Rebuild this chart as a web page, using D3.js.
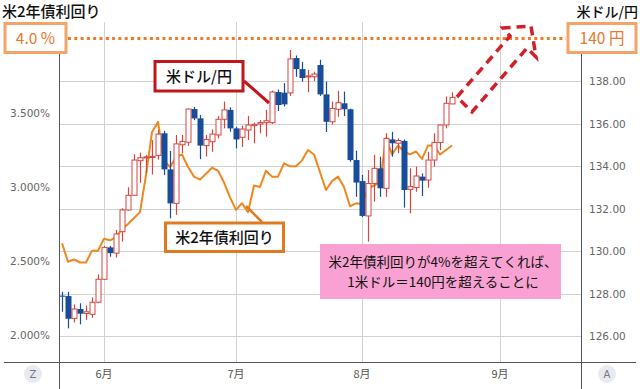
<!DOCTYPE html>
<html><head><meta charset="utf-8">
<script src="https://cdn.jsdelivr.net/npm/d3@7"></script>
<style>
html,body{margin:0;padding:0;background:#fff;}
svg{display:block;}
</style></head>
<body>
<svg id="c" width="640" height="389"></svg>
<script>
// ---- data ----
const dates = ["2022-05-23","2022-05-24","2022-05-25","2022-05-26","2022-05-27","2022-05-30","2022-05-31",
"2022-06-01","2022-06-02","2022-06-03","2022-06-06","2022-06-07","2022-06-08","2022-06-09","2022-06-10",
"2022-06-13","2022-06-14","2022-06-15","2022-06-16","2022-06-17","2022-06-20","2022-06-21","2022-06-22",
"2022-06-23","2022-06-24","2022-06-27","2022-06-28","2022-06-29","2022-06-30",
"2022-07-01","2022-07-04","2022-07-05","2022-07-06","2022-07-07","2022-07-08","2022-07-11","2022-07-12",
"2022-07-13","2022-07-14","2022-07-15","2022-07-18","2022-07-19","2022-07-20","2022-07-21","2022-07-22",
"2022-07-25","2022-07-26","2022-07-27","2022-07-28","2022-07-29",
"2022-08-01","2022-08-02","2022-08-03","2022-08-04","2022-08-05","2022-08-08","2022-08-09","2022-08-10",
"2022-08-11","2022-08-12","2022-08-15","2022-08-16","2022-08-17","2022-08-18","2022-08-19","2022-08-22"];
const open = [127.90,127.88,126.83,127.27,127.06,127.02,127.59,
128.67,130.17,129.90,130.91,131.93,132.62,134.25,134.39,
134.40,134.50,135.54,133.84,132.24,135.00,135.12,136.68,
136.24,134.96,135.14,135.46,136.20,136.64,
135.77,135.35,135.69,135.90,135.98,136.04,136.04,137.48,
137.45,137.44,139.08,138.56,138.20,138.20,138.75,137.37,
136.08,136.67,136.95,136.67,134.28,
133.29,131.65,133.18,133.89,132.95,135.25,135.07,135.18,
132.90,132.99,133.50,133.34,134.28,135.11,135.93,136.92];
const high = [128.08,128.08,127.49,127.54,127.43,127.82,128.90,
130.24,130.24,130.99,132.01,133.00,134.55,134.63,134.52,
135.22,135.69,135.66,134.71,135.46,135.46,136.71,136.78,
136.40,135.46,135.72,136.35,137.03,136.76,
135.85,135.90,136.35,136.04,136.16,136.64,137.55,137.60,
137.90,139.46,139.20,138.90,138.52,138.44,139.00,137.97,
137.03,137.54,137.50,136.70,134.72,
133.58,133.81,134.52,134.44,135.54,135.61,135.30,135.25,
133.89,133.97,133.65,134.67,135.54,135.95,137.27,137.47];
const low = [127.14,126.36,126.64,126.55,126.76,126.86,127.54,
128.64,129.73,129.69,130.44,131.90,132.59,133.21,133.66,
133.60,134.30,133.58,131.54,131.70,134.60,134.95,136.16,
134.32,134.45,134.67,135.30,135.77,135.61,
134.83,134.90,135.22,135.07,135.54,135.38,135.98,136.59,
136.80,137.30,138.20,137.97,137.47,138.00,137.30,135.60,
135.95,136.32,136.35,134.20,132.55,
131.60,130.44,132.32,132.55,132.55,134.44,134.60,132.04,
131.77,132.79,132.59,132.98,133.97,134.75,135.77,136.92];
const close = [127.85,126.81,127.27,127.05,127.14,127.59,128.67,
130.17,129.90,130.80,131.93,132.62,134.28,134.39,134.43,
134.45,135.50,133.84,132.24,135.04,135.16,136.68,136.24,
134.96,135.25,135.50,136.20,136.64,135.77,
135.25,135.74,135.93,135.96,136.05,136.13,137.48,136.87,
136.90,139.04,138.56,138.14,138.24,138.33,137.37,136.08,
136.71,136.98,136.67,134.28,133.22,
131.65,133.18,133.89,132.95,135.30,135.07,135.20,132.87,
133.03,133.53,133.31,134.28,135.11,135.93,136.95,137.23];
const yield2y = [2.62,2.495,2.51,2.49,2.49,2.57,2.57,
2.65,2.64,2.66,2.716,2.75,2.79,2.83,3.08,
3.37,3.44,3.18,3.135,3.20,3.22,3.135,3.07,
3.05,3.09,3.13,3.11,3.03,2.93,
2.845,2.89,2.83,3.01,3.00,3.11,3.07,3.07,
3.16,3.14,3.14,3.18,3.25,3.22,3.10,2.98,
3.04,3.07,3.00,2.87,2.89,
2.885,2.99,3.01,3.03,3.33,3.22,3.28,3.24,
3.22,3.24,3.19,3.28,3.28,3.22,3.25,3.28];
const leftTicks = [2.0, 2.5, 3.0, 3.5];
const rightTicks = [126,128,130,132,134,136,138];
const monthTicks = ["2022-06-01","2022-07-01","2022-08-01","2022-09-01"];
const monthLabels = ["6月","7月","8月","9月"];

// ---- helpers ----
const base = new Date(Date.UTC(2022,5,1));
function wdIndex(s){
  const d = new Date(s+"T00:00:00Z");
  if (d >= base) return d3.utcDays(base, d).filter(x=>x.getUTCDay()%6!==0).length;
  return -d3.utcDays(d, base).filter(x=>x.getUTCDay()%6!==0).length;
}

const svg = d3.select("#c");
const L = 60, R = 582, T = 22, B = 362;
const x = d3.scaleLinear().domain([-44/6, 478/6]).range([L, R]);
const yR = d3.scaleLinear().domain([126,140]).range([336, 38.5]);
const yL = d3.scaleLinear().domain([2.0,4.0]).range([335, 39]);

const data = dates.map((d,i)=>({i:wdIndex(d),o:open[i],h:high[i],l:low[i],c:close[i],y:yield2y[i]}));

// grid
const g = svg.append("g");
g.selectAll("line.h").data(rightTicks).join("line")
  .attr("x1",L).attr("x2",R).attr("y1",d=>Math.round(yR(d))+0.5).attr("y2",d=>Math.round(yR(d))+0.5)
  .attr("stroke","#d2d2d2").attr("stroke-width",1);
g.selectAll("line.v").data(monthTicks).join("line")
  .attr("x1",d=>Math.round(x(wdIndex(d)))+0.5).attr("x2",d=>Math.round(x(wdIndex(d)))+0.5)
  .attr("y1",T).attr("y2",B).attr("stroke","#d2d2d2").attr("stroke-width",1);

// axes frame
svg.append("line").attr("x1",4).attr("x2",636).attr("y1",B+0.5).attr("y2",B+0.5).attr("stroke","#555");
svg.append("line").attr("x1",L-0.5).attr("x2",L-0.5).attr("y1",T).attr("y2",389).attr("stroke","#555");
svg.append("line").attr("x1",R-0.5).attr("x2",R-0.5).attr("y1",T).attr("y2",389).attr("stroke","#555");

// tick labels
const tickFont = "DejaVu Sans, Verdana, sans-serif";
svg.selectAll("text.lt").data(leftTicks).join("text")
  .attr("x",50).attr("y",d=>yL(d)+4).attr("text-anchor","end")
  .attr("font-family",tickFont).attr("font-size",10.5).attr("fill","#666")
  .text(d=>d3.format(".3f")(d)+"%");
svg.selectAll("text.rt").data(rightTicks).join("text")
  .attr("x",589).attr("y",d=>yR(d)+4).attr("text-anchor","start")
  .attr("font-family",tickFont).attr("font-size",10.5).attr("fill","#666")
  .text(d=>d3.format(".2f")(d));
svg.selectAll("text.mt").data(monthTicks).join("text")
  .attr("x",d=>x(wdIndex(d))).attr("y",378).attr("text-anchor","middle")
  .attr("font-family","Noto Sans CJK JP, sans-serif").attr("font-size",11).attr("fill","#555")
  .text((d,i)=>monthLabels[i]);
[["Z",33],["A",607]].forEach(([t,cx])=>{
  svg.append("circle").attr("cx",cx).attr("cy",374).attr("r",9).attr("fill","#e9e9f1");
  svg.append("text").attr("x",cx).attr("y",378).attr("text-anchor","middle")
    .attr("font-family",tickFont).attr("font-size",10).attr("fill","#777").text(t);
});

// yield line
svg.append("path").datum(data)
  .attr("d", d3.line().x(d=>x(d.i)).y(d=>yL(d.y)))
  .attr("fill","none").attr("stroke","#f0871e").attr("stroke-width",2).attr("stroke-linejoin","round");

// candles
const red = "#d8453c", blue = "#184d9c";
const cg = svg.append("g");
data.forEach(d=>{
  const up = d.c >= d.o;
  const col = up ? red : blue;
  const cx = Math.round(x(d.i)) + 0.5;
  const top = yR(Math.max(d.o,d.c)), bot = yR(Math.min(d.o,d.c));
  cg.append("line").attr("x1",cx).attr("x2",cx).attr("y1",yR(d.h)).attr("y2",yR(d.l))
    .attr("stroke",col).attr("stroke-width",1.2);
  const h = Math.max(bot-top, 1);
  if (up) {
    cg.append("rect").attr("x",cx-2.5).attr("y",top).attr("width",5).attr("height",h)
      .attr("fill","#fff").attr("stroke",col).attr("stroke-width",1);
  } else {
    cg.append("rect").attr("x",cx-3).attr("y",top).attr("width",6).attr("height",h)
      .attr("fill",col);
  }
});

// dotted target line
const target = 140;
svg.append("line").attr("x1",68).attr("x2",566).attr("y1",yR(target)).attr("y2",yR(target))
  .attr("stroke","#ee7b28").attr("stroke-width",3).attr("stroke-dasharray","3,3.3");

// target boxes
function box(x0,y0,w,h,stroke,sw){
  svg.append("rect").attr("x",x0).attr("y",y0).attr("width",w).attr("height",h)
    .attr("fill","#fff").attr("stroke",stroke).attr("stroke-width",sw);
}
box(5,23.5,61,29,"#f5a366",3);
svg.append("text").attr("x",35.5).attr("y",44).attr("text-anchor","middle")
  .attr("font-family","Noto Sans CJK JP, sans-serif").attr("font-size",15.5).attr("fill","#e8772c").text("4.0 %");
box(568,23.5,68,29,"#f5a366",3);
svg.append("text").attr("x",602).attr("y",44).attr("text-anchor","middle")
  .attr("font-family","Noto Sans CJK JP, sans-serif").attr("font-size",15.5).attr("fill","#e8772c").text("140 円");

// titles
svg.append("text").attr("x",2).attr("y",17).attr("font-family","Noto Sans CJK JP, sans-serif")
  .attr("font-size",15).attr("font-weight",500).attr("fill","#111").text("米2年債利回り");
svg.append("text").attr("x",638).attr("y",17).attr("text-anchor","end").attr("font-family","Noto Sans CJK JP, sans-serif")
  .attr("font-size",14).attr("font-weight",500).attr("fill","#111").text("米ドル/円");

// callouts
svg.append("line").attr("x1",244).attr("y1",81).attr("x2",269).attr("y2",103)
  .attr("stroke","#c0171f").attr("stroke-width",3);
box(155,61.5,88,29.5,"#c0171f",3);
svg.append("text").attr("x",199).attr("y",82).attr("text-anchor","middle")
  .attr("font-family","Noto Sans CJK JP, sans-serif").attr("font-size",15).attr("font-weight",500).attr("fill","#111").text("米ドル/円");

svg.append("line").attr("x1",246).attr("y1",206).attr("x2",262).attr("y2",222)
  .attr("stroke","#e07a1f").attr("stroke-width",2.5);
box(165.5,223,118,28.5,"#e07a1f",3);
svg.append("text").attr("x",224.5).attr("y",243).attr("text-anchor","middle")
  .attr("font-family","Noto Sans CJK JP, sans-serif").attr("font-size",15).attr("font-weight",500).attr("fill","#111").text("米2年債利回り");

// pink note
svg.append("rect").attr("x",320).attr("y",244).attr("width",241).attr("height",55).attr("fill","#f8a1d2");
svg.append("text").attr("x",443).attr("y",267).attr("text-anchor","middle")
  .attr("font-family","Noto Sans CJK JP, sans-serif").attr("font-size",13.5).attr("fill","#111")
  .text("米2年債利回りが4%を超えてくれば、");
svg.append("text").attr("x",443).attr("y",287).attr("text-anchor","middle")
  .attr("font-family","Noto Sans CJK JP, sans-serif").attr("font-size",13.5).attr("fill","#111")
  .text("1米ドル＝140円を超えることに");

// dashed arrow
const arrowPts = [[457,97],[510,36],[503,28],[531,26],[536,57],[527,48],[472,112]];
svg.append("path").attr("d", d3.line()(arrowPts)+"Z")
  .attr("fill","none").attr("stroke","#d21f2a").attr("stroke-width",3.5)
  .attr("stroke-dasharray","9,6").attr("stroke-linejoin","miter");
</script>
</body></html>
